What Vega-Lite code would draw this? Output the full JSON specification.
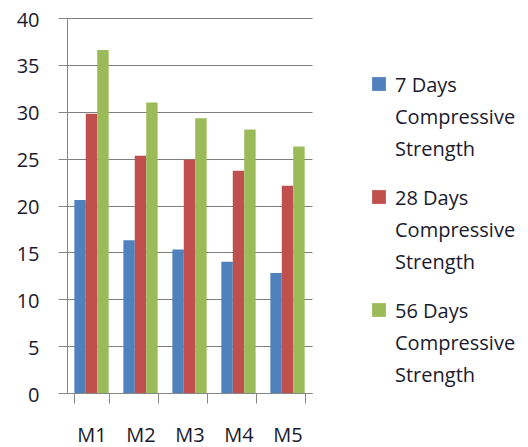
{
  "$schema": "https://vega.github.io/schema/vega-lite/v6.json",
  "width": 245,
  "height": 375,
  "autosize": {"type": "none"},
  "padding": {"left": 67, "top": 18, "right": 216, "bottom": 54},
  "background": "white",
  "config": {
    "font": "Open Sans",
    "view": {"stroke": null},
    "axis": {"labelFont": "Open Sans", "labelColor": "#1a1a2e", "labelFontSize": 20},
    "style": {"guide-label": {"lineHeight": 32, "dy": -8}}
  },
  "data": {
    "values": [
      {"mix": "M1", "series": "7 Days|Compressive|Strength", "value": 20.6},
      {"mix": "M1", "series": "28 Days|Compressive|Strength", "value": 29.8},
      {"mix": "M1", "series": "56 Days|Compressive|Strength", "value": 36.6},
      {"mix": "M2", "series": "7 Days|Compressive|Strength", "value": 16.3},
      {"mix": "M2", "series": "28 Days|Compressive|Strength", "value": 25.3},
      {"mix": "M2", "series": "56 Days|Compressive|Strength", "value": 31.0},
      {"mix": "M3", "series": "7 Days|Compressive|Strength", "value": 15.3},
      {"mix": "M3", "series": "28 Days|Compressive|Strength", "value": 24.9},
      {"mix": "M3", "series": "56 Days|Compressive|Strength", "value": 29.3},
      {"mix": "M4", "series": "7 Days|Compressive|Strength", "value": 14.0},
      {"mix": "M4", "series": "28 Days|Compressive|Strength", "value": 23.7},
      {"mix": "M4", "series": "56 Days|Compressive|Strength", "value": 28.1},
      {"mix": "M5", "series": "7 Days|Compressive|Strength", "value": 12.8},
      {"mix": "M5", "series": "28 Days|Compressive|Strength", "value": 22.1},
      {"mix": "M5", "series": "56 Days|Compressive|Strength", "value": 26.3}
    ]
  },
  "mark": {"type": "bar", "stroke": null},
  "encoding": {
    "x": {
      "field": "mix",
      "type": "nominal",
      "title": null,
      "scale": {"paddingInner": 0.3, "paddingOuter": 0.15},
      "axis": {
        "labelAngle": 0,
        "tickBand": "extent",
        "tickSize": 10,
        "tickColor": "#868686",
        "domainColor": "#868686",
        "labelPadding": 30,
        "grid": false
      }
    },
    "y": {
      "field": "value",
      "type": "quantitative",
      "title": null,
      "scale": {"domain": [0, 40], "nice": false},
      "axis": {
        "values": [0, 5, 10, 15, 20, 25, 30, 35, 40],
        "tickSize": 9,
        "tickColor": "#868686",
        "domainColor": "#868686",
        "gridColor": "#7f7f7f",
        "labelPadding": 19,
        "labelOffset": 10,
        "grid": true
      }
    },
    "xOffset": {
      "field": "series",
      "type": "nominal",
      "sort": ["7 Days|Compressive|Strength", "28 Days|Compressive|Strength", "56 Days|Compressive|Strength"]
    },
    "color": {
      "field": "series",
      "type": "nominal",
      "title": null,
      "sort": ["7 Days|Compressive|Strength", "28 Days|Compressive|Strength", "56 Days|Compressive|Strength"],
      "scale": {"range": ["#4F81BD", "#C0504D", "#9BBB59"]},
      "legend": {
        "orient": "none",
        "legendX": 302,
        "legendY": 56,
        "symbolType": "square",
        "symbolSize": 190,
        "symbolStrokeWidth": 0,
        "labelFont": "Open Sans",
        "labelFontSize": 20,
        "labelColor": "#1a1a2e",
        "labelLimit": 300,
        "labelBaseline": "top",
        "labelOffset": 6,
        "rowPadding": 27,
        "labelExpr": "split(datum.label, '|')"
      }
    }
  }
}
